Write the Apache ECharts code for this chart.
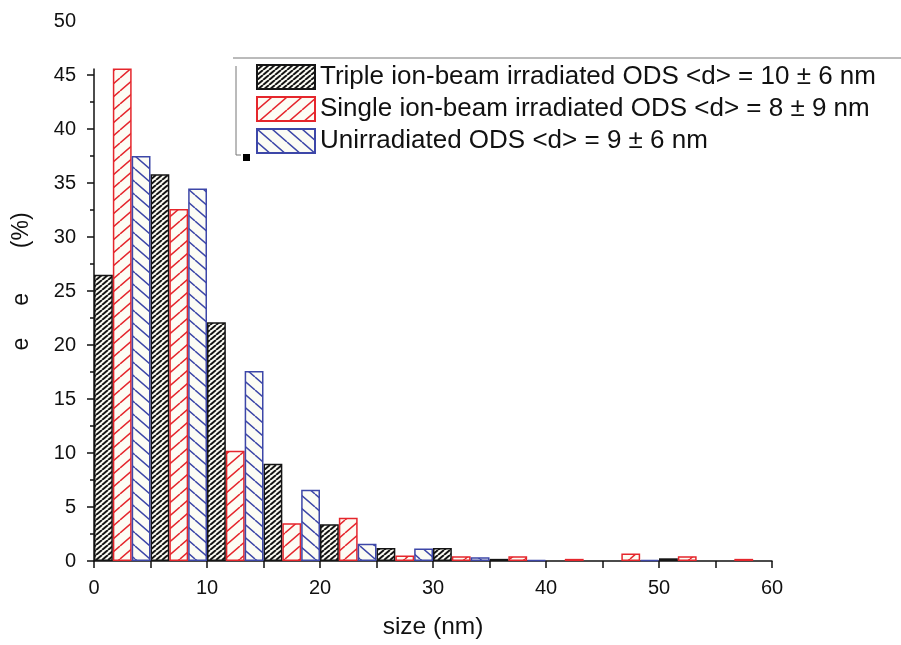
<!DOCTYPE html>
<html>
<head>
<meta charset="utf-8">
<script src="https://cdn.jsdelivr.net/npm/echarts@6/dist/echarts.min.js"></script>
<style>
  html, body { margin: 0; padding: 0; background: #fff; }
  #main { width: 901px; height: 645px; }
</style>
</head>
<body>
<div id="main"></div>
<script>
// 5 nm size bins, three bars per bin
const BINS = ['0-5', '5-10', '10-15', '15-20', '20-25', '25-30', '30-35', '35-40', '40-45', '45-50', '50-55', '55-60'];
const TRIPLE = [26.5, 35.8, 22.1, 9.0, 3.4, 1.2, 1.2, 0.2, 0, 0, 0.25, 0];
const SINGLE = [45.6, 32.6, 10.2, 3.5, 4.0, 0.5, 0.45, 0.45, 0.2, 0.7, 0.45, 0.2];
const UNIRR = [37.5, 34.5, 17.6, 6.6, 1.6, 1.15, 0.35, 0.1, 0, 0.1, 0, 0];

const NAMES = [
  'Triple ion-beam irradiated ODS <d> = 10 ± 6 nm',
  'Single ion-beam irradiated ODS <d> = 8 ± 9 nm',
  'Unirradiated ODS <d> = 9 ± 6 nm'
];
const Y_MAJOR = [0, 5, 10, 15, 20, 25, 30, 35, 40, 45];
const Y_MINOR = [2.5, 7.5, 12.5, 17.5, 22.5, 27.5, 32.5, 37.5, 42.5];

const FONT = '"Liberation Sans", Arial, Helvetica, sans-serif';
const INK = '#111';

// hatch tile w x h: dir 1 = '/', dir -1 = '\'
function hatch(color, w, h, lw, dir) {
  const c = document.createElement('canvas');
  c.width = w;
  c.height = h;
  const g = c.getContext('2d');
  g.fillStyle = '#fcfcf4';
  g.fillRect(0, 0, w, h);
  g.strokeStyle = color;
  g.lineWidth = lw;
  g.beginPath();
  for (let k = -1; k <= 1; k++) {
    if (dir > 0) {
      g.moveTo(k * w, h);
      g.lineTo(k * w + w, 0);
    } else {
      g.moveTo(k * w, 0);
      g.lineTo(k * w + w, h);
    }
  }
  g.stroke();
  return c;
}

const nz = arr => arr.map(v => (v === 0 ? null : v));

function barSeries(name, data, color, tile) {
  return {
    name: name,
    type: 'bar',
    xAxisIndex: 0,
    yAxisIndex: 0,
    data: nz(data),
    barGap: '0%',
    barCategoryGap: '0%',
    itemStyle: {
      color: { image: tile, repeat: 'repeat' },
      borderColor: color,
      borderWidth: 1.5
    }
  };
}

const chart = echarts.init(document.getElementById('main'), null, { renderer: 'canvas' });

chart.setOption({
  animation: false,
  backgroundColor: '#fff',
  grid: { left: 94, right: 129, top: 21, bottom: 78 },
  legend: {
    orient: 'vertical',
    left: 256,
    top: 64,
    padding: 0,
    itemWidth: 58,
    itemHeight: 24,
    itemGap: 6,
    icon: 'rect',
    data: NAMES,
    textStyle: { fontFamily: FONT, fontSize: 26, lineHeight: 24, color: INK }
  },
  xAxis: [
    { type: 'category', data: BINS, show: false },
    {
      type: 'value',
      min: 0,
      max: 60,
      interval: 5,
      position: 'bottom',
      axisLine: { show: true, lineStyle: { color: INK, width: 1.5 } },
      axisTick: { show: true, length: 7, lineStyle: { color: INK, width: 1.5 } },
      axisLabel: {
        formatter: v => (v % 10 === 0 ? String(v) : ''),
        margin: 17,
        fontFamily: FONT,
        fontSize: 20,
        color: INK
      },
      splitLine: { show: false },
      name: 'size (nm)',
      nameLocation: 'middle',
      nameGap: 54,
      nameTextStyle: { fontFamily: FONT, fontSize: 24.5, color: INK }
    }
  ],
  yAxis: [
    {
      type: 'value',
      min: 0,
      max: 50,
      interval: 5,
      position: 'left',
      axisLine: { show: false },
      axisTick: { show: true, length: 7, customValues: Y_MAJOR, lineStyle: { color: INK, width: 1.5 } },
      axisLabel: { margin: 18, fontFamily: FONT, fontSize: 20, color: INK },
      splitLine: { show: false },
      name: '   e     e       (%)',
      nameLocation: 'middle',
      nameRotate: 90,
      nameGap: 61,
      nameTextStyle: { fontFamily: FONT, fontSize: 23, color: INK }
    },
    {
      type: 'value',
      min: 0,
      max: 50,
      interval: 5,
      position: 'left',
      axisLine: { show: false },
      axisTick: { show: true, length: 4, customValues: Y_MINOR, lineStyle: { color: INK, width: 1.5 } },
      axisLabel: { show: false },
      splitLine: { show: false }
    }
  ],
  series: [
    barSeries(NAMES[0], TRIPLE, '#151515', hatch('#151515', 6, 5, 2, 1)),
    barSeries(NAMES[1], SINGLE, '#e5262c', hatch('#e5262c', 15, 13, 1.5, 1)),
    barSeries(NAMES[2], UNIRR, '#3d47a8', hatch('#3d47a8', 15, 13, 1.5, -1))
  ]
});

// y axis line only runs up to the tallest bar; legend frame remnants
const x0 = chart.convertToPixel({ xAxisIndex: 1 }, 0);
const yBottom = chart.convertToPixel({ yAxisIndex: 0 }, 0);
const yTop = chart.convertToPixel({ yAxisIndex: 0 }, Math.max(...SINGLE));

chart.setOption({
  graphic: [
    { type: 'line', z: 10, shape: { x1: x0, y1: yBottom + 0.75, x2: x0, y2: yTop }, style: { stroke: INK, lineWidth: 1.5 } },
    { type: 'line', z: 10, shape: { x1: 233, y1: 58, x2: 901, y2: 58 }, style: { stroke: '#777', lineWidth: 1 } },
    { type: 'polyline', z: 10, shape: { points: [[236, 66], [236, 155], [241, 155]] }, style: { stroke: '#777', lineWidth: 1, fill: null } },
    { type: 'rect', z: 10, shape: { x: 243, y: 154, width: 7, height: 7 }, style: { fill: '#000' } }
  ]
});
</script>
</body>
</html>
